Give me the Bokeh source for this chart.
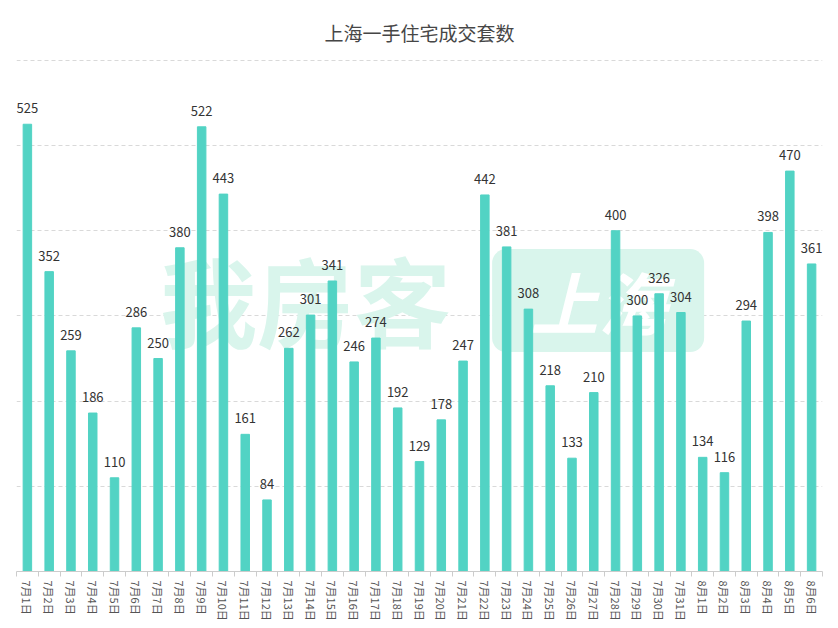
from bokeh.plotting import figure
from bokeh.models import ColumnDataSource, FixedTicker, Range1d
from bokeh.core.properties import value
from bokeh.embed import file_html
from bokeh.resources import INLINE

title_text = "上海一手住宅成交套数"
dates = [f"7月{d}日" for d in range(1, 32)] + [f"8月{d}日" for d in range(1, 7)]
counts = [525, 352, 259, 186, 110, 286, 250, 380, 522, 443, 161, 84, 262, 301,
          341, 246, 274, 192, 129, 178, 247, 442, 381, 308, 218, 133, 210, 400,
          300, 326, 304, 134, 116, 294, 398, 470, 361]
y_ticks = [0, 100, 200, 300, 400, 500, 600]

FONT = "Noto Sans CJK SC"
BAR = "#52d3c4"

n = len(dates)
xs = [i + 0.5 for i in range(n)]
src = ColumnDataSource(dict(x=xs, top=counts, label=[str(c) for c in counts]))

p = figure(width=838, height=623, output_backend="svg", toolbar_location=None,
           x_range=Range1d(0, n), y_range=Range1d(0, 601),
           min_border_left=16, min_border_right=16, min_border_top=59, min_border_bottom=0)

p.title.text = title_text
p.title.align = "center"
p.title.vertical_align = "top"
p.title.text_font = FONT
p.title.text_font_size = "19px"
p.title.text_font_style = "normal"
p.title.text_color = "#464646"
p.title.standoff = 24

p.outline_line_color = None
p.background_fill_color = "white"
p.border_fill_color = "white"

# faint watermark (decoration)
p.text(x=[13.27], y=[322], text=["我房客"], text_font=value(FONT),
       text_font_size="97px", text_font_style="bold", text_color="#d9f5ec",
       text_align="center", text_baseline="middle")
p.text(x=[26.7], y=[318], text=["上海"], text_font=value(FONT),
       text_font_size="68px", text_font_style="bold italic", text_color="white",
       text_align="center", text_baseline="middle", text_line_height=1.0,
       background_fill_color="#d9f5ec", border_radius=14, padding=(38, 2))

p.vbar(x="x", top="top", width=0.39, bottom=0, source=src, color=BAR)
p.text(x="x", y="top", text="label", source=src, text_align="center",
       text_baseline="bottom", y_offset=-11, text_font=value(FONT),
       text_font_size="13px", text_color="#333333")

p.yaxis.visible = False
p.yaxis.ticker = FixedTicker(ticks=y_ticks)
p.ygrid.grid_line_color = "#d9d9d9"
p.ygrid.grid_line_dash = "4 3"
p.xgrid.grid_line_color = None

xa = p.xaxis[0]
xa.ticker = FixedTicker(ticks=xs, minor_ticks=list(range(n + 1)))
xa.major_label_overrides = {x: d for x, d in zip(xs, dates)}
xa.major_label_orientation = "vertical"
xa.major_tick_line_color = None
xa.minor_tick_line_color = "#cccccc"
xa.minor_tick_in = 0
xa.minor_tick_out = 5
xa.axis_line_color = "#cccccc"
xa.major_label_text_font = FONT
xa.major_label_text_font_size = "11px"
xa.major_label_text_color = "#555555"
xa.major_label_standoff = 3

open("out.html", "w").write(file_html(p, INLINE))
